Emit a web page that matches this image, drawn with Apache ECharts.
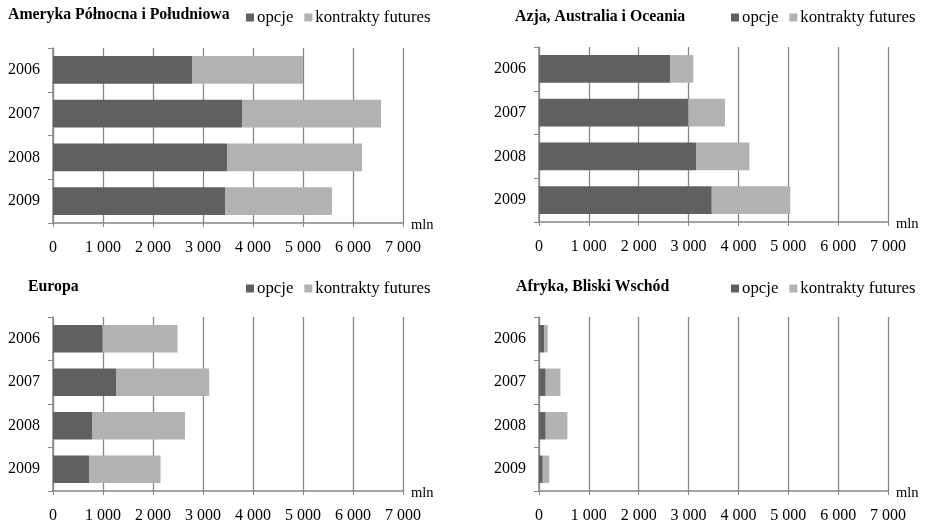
<!DOCTYPE html>
<html><head><meta charset="utf-8">
<script src="https://cdn.jsdelivr.net/npm/echarts@6/dist/echarts.min.js"></script>
<style>html,body{margin:0;padding:0;background:#fff}#c{width:927px;height:526px}</style>
</head><body><div id="c"></div>
<script>
const categories = ['2006', '2007', '2008', '2009'];
const seriesNames = ['opcje', 'kontrakty futures'];
const titles = ['Ameryka Północna i Południowa', 'Azja, Australia i Oceania', 'Europa', 'Afryka, Bliski Wschód'];
const xTicks = [0, 1000, 2000, 3000, 4000, 5000, 6000, 7000];
const unitLabel = 'mln';

const amerykaOpcje   = [2780, 3780, 3480, 3440];
const amerykaFutures = [2220, 2780, 2700, 2140];
const azjaOpcje      = [2630, 2995, 3150, 3465];
const azjaFutures    = [465, 735, 1070, 1575];
const europaOpcje    = [995, 1260, 790, 720];
const europaFutures  = [1495, 1865, 1850, 1430];
const afrykaOpcje    = [100, 135, 135, 75];
const afrykaFutures  = [75, 295, 435, 130];

const panelOpcje = [amerykaOpcje, azjaOpcje, europaOpcje, afrykaOpcje];
const panelFutures = [amerykaFutures, azjaFutures, europaFutures, afrykaFutures];

const FONT = 'Liberation Serif, Times New Roman, serif';
const AX = '#878787';
const DARK = '#606060';
const LIGHT = '#b2b2b2';

const grids = [
  {left: 53, top: 48, width: 350, height: 175},
  {left: 539, top: 47, width: 349, height: 175},
  {left: 53, top: 317, width: 350, height: 174},
  {left: 539, top: 317, width: 349, height: 174}
];
const titlePos = [{left: 8, top: 7}, {left: 515, top: 9}, {left: 28, top: 279}, {left: 516, top: 279}];
const legendPos = [{left: 246, top: 9}, {left: 731, top: 9}, {left: 246, top: 280}, {left: 731, top: 280}];

function fmt(v) { return String(v).replace(/\B(?=(\d{3})+(?!\d))/g, ' '); }

const option = {
  animation: false,
  backgroundColor: '#fff',
  color: [DARK, LIGHT],
  title: titles.map((t, i) => ({
    text: t, left: titlePos[i].left, top: titlePos[i].top, padding: 0,
    textStyle: {fontFamily: FONT, fontWeight: 'bold', fontSize: 15.8, color: '#000'}
  })),
  legend: legendPos.map(p => ({
    data: seriesNames, left: p.left, top: p.top, padding: 0,
    icon: 'rect', itemWidth: 8, itemHeight: 8, itemGap: 11,
    textStyle: {fontFamily: FONT, fontSize: 16.8, color: '#000', padding: [0, 0, 0, -2]}
  })),
  grid: grids,
  xAxis: grids.map((g, i) => ({
    type: 'value', gridIndex: i, min: xTicks[0], max: xTicks[xTicks.length - 1], interval: xTicks[1] - xTicks[0],
    name: unitLabel, nameLocation: 'end', nameGap: 8,
    nameTextStyle: {fontFamily: FONT, fontSize: 14.5, color: '#000', verticalAlign: 'top', padding: [-5, 0, 0, 0]},
    axisLine: {show: true, lineStyle: {color: AX, width: 1.5}},
    axisTick: {show: true, length: 4, lineStyle: {color: AX}},
    axisLabel: {fontFamily: FONT, fontSize: 16, color: '#000', margin: 17, formatter: fmt},
    splitLine: {show: true, lineStyle: {color: AX, width: 1.3}}
  })),
  yAxis: grids.map((g, i) => ({
    type: 'category', gridIndex: i, data: categories, inverse: true,
    axisLine: {show: true, lineStyle: {color: AX, width: 1.5}},
    axisTick: {show: true, length: 5, lineStyle: {color: AX}},
    axisLabel: {fontFamily: FONT, fontSize: 16, color: '#000', margin: 13}
  })),
  series: []
};
for (let i = 0; i < 4; i++) {
  option.series.push({
    name: seriesNames[0], type: 'bar', stack: 's' + i, xAxisIndex: i, yAxisIndex: i,
    data: panelOpcje[i], barCategoryGap: '37%', itemStyle: {color: DARK}
  });
  option.series.push({
    name: seriesNames[1], type: 'bar', stack: 's' + i, xAxisIndex: i, yAxisIndex: i,
    data: panelFutures[i], barCategoryGap: '37%', itemStyle: {color: LIGHT}
  });
}
const chart = echarts.init(document.getElementById('c'), null, {renderer: 'canvas'});
chart.setOption(option);
</script>
</body></html>
